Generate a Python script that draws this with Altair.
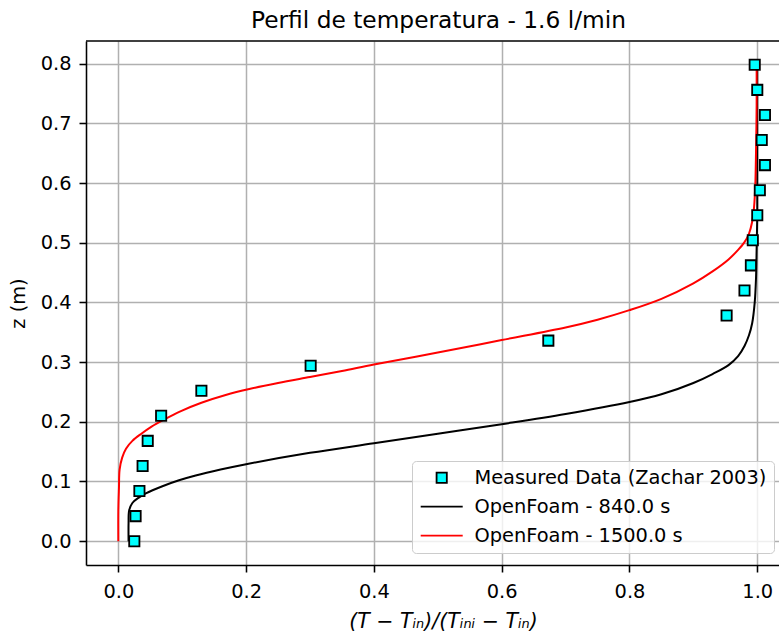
import altair as alt
import pandas as pd

# Measured temperature profile (Zachar 2003): normalised temperature vs height
meas_theta = [0.025, 0.027, 0.033, 0.038, 0.046, 0.067, 0.130, 0.301, 0.673, 0.952,
              0.980, 0.990, 0.993, 1.000, 1.004, 1.012, 1.007, 1.012, 1.000, 0.996]
meas_z = [0.000, 0.042, 0.084, 0.126, 0.168, 0.210, 0.252, 0.294, 0.336, 0.378,
          0.420, 0.462, 0.504, 0.546, 0.588, 0.630, 0.672, 0.714, 0.756, 0.798]

# OpenFoam profile at t = 840 s
of840_theta = [0.016, 0.016, 0.017, 0.022, 0.032, 0.043, 0.069, 0.095, 0.121, 0.160,
               0.200, 0.300, 0.400, 0.500, 0.600, 0.700, 0.800, 0.850, 0.900, 0.930,
               0.955, 0.970, 0.980, 0.987, 0.992, 0.996, 0.998, 0.999, 1.000, 1.000,
               1.000]
of840_z = [0.000, 0.030, 0.052, 0.064, 0.073, 0.080, 0.092, 0.102, 0.110, 0.120,
           0.129, 0.148, 0.164, 0.180, 0.196, 0.213, 0.233, 0.246, 0.265, 0.280,
           0.295, 0.310, 0.327, 0.345, 0.365, 0.400, 0.440, 0.490, 0.550, 0.650,
           0.798]

# OpenFoam profile at t = 1500 s
of1500_theta = [0.000, 0.000, 0.001, 0.002, 0.006, 0.012, 0.022, 0.036, 0.052, 0.072,
                0.098, 0.130, 0.168, 0.205, 0.250, 0.300, 0.350, 0.400, 0.500, 0.600,
                0.700, 0.750, 0.800, 0.850, 0.900, 0.930, 0.955, 0.970, 0.980, 0.987,
                0.992, 0.995, 0.997, 0.998, 0.999, 0.999]
of1500_z = [0.000, 0.050, 0.090, 0.120, 0.140, 0.155, 0.168, 0.180, 0.192, 0.204,
            0.218, 0.232, 0.245, 0.255, 0.265, 0.275, 0.285, 0.296, 0.316, 0.337,
            0.358, 0.371, 0.387, 0.406, 0.432, 0.452, 0.472, 0.488, 0.501, 0.515,
            0.535, 0.560, 0.600, 0.650, 0.730, 0.798]

series = ["Measured Data (Zachar 2003)", "OpenFoam - 840.0 s", "OpenFoam - 1500.0 s"]

meas_df = pd.DataFrame({"theta": meas_theta, "z": meas_z, "serie": series[0]})
curves_df = pd.concat([
    pd.DataFrame({"theta": of840_theta, "z": of840_z, "serie": series[1]}),
    pd.DataFrame({"theta": of1500_theta, "z": of1500_z, "serie": series[2]}),
], ignore_index=True)

FONT = "DejaVu Sans"
W, H = 693, 524

x_scale = alt.Scale(domain=[-0.0506, 1.034], nice=False, zero=False)
y_scale = alt.Scale(domain=[-0.0399, 0.8379], nice=False, zero=False)

x_enc = alt.X("theta:Q", scale=x_scale,
              axis=alt.Axis(values=[0.0, 0.2, 0.4, 0.6, 0.8, 1.0], format=".1f",
                            title="(T − Tᵢₙ)/(Tᵢₙᵢ − Tᵢₙ)", titleFontStyle="italic",
                            titleFontSize=20.5, titleX=357, titlePadding=11,
                            labelPadding=10, labelFlush=False))
y_enc = alt.Y("z:Q", scale=y_scale,
              axis=alt.Axis(values=[0.0, 0.1, 0.2, 0.3, 0.4, 0.5, 0.6, 0.7, 0.8],
                            format=".1f", title="z (m)", titlePadding=12,
                            labelPadding=8))

legend = alt.Legend(
    title=None, orient="none", legendX=326, legendY=420,
    fillColor="rgba(255,255,255,0.8)", strokeColor="#cccccc", cornerRadius=4,
    padding=7, labelFont=FONT, labelFontSize=19.4, labelColor="black",
    labelLimit=0, symbolSize=105, symbolStrokeWidth=1.8, symbolOpacity=1,
    symbolOffset=13, labelOffset=23, rowPadding=8,
)

fill_scale = alt.Scale(domain=series, range=["#00ffff", "transparent", "transparent"])
stroke_scale = alt.Scale(domain=series, range=["black", "black", "red"])
shape_scale = alt.Scale(domain=series, range=["square", "M-4.1,0H4.1", "M-4.1,0H4.1"])

lines = alt.Chart(curves_df).mark_line(strokeWidth=2, interpolate="catmull-rom").encode(
    x=x_enc, y=y_enc, order="z:Q",
    stroke=alt.Stroke("serie:N", scale=stroke_scale, legend=legend),
)

points = alt.Chart(meas_df).mark_point(filled=True, size=105, strokeWidth=1.8, opacity=1).encode(
    x=x_enc, y=y_enc,
    fill=alt.Fill("serie:N", scale=fill_scale, legend=legend),
    stroke=alt.Stroke("serie:N", scale=stroke_scale, legend=legend),
    shape=alt.Shape("serie:N", scale=shape_scale, legend=legend),
)

# upper frame line of the axes box
top_spine = alt.Chart(pd.DataFrame({"a": [0]})).mark_rule(
    color="black", strokeWidth=1.55
).encode(x=alt.value(0), x2=alt.value(W), y=alt.value(0))

chart = alt.layer(lines, points, top_spine).properties(
    width=W, height=H,
    title=alt.TitleParams("Perfil de temperatura - 1.6 l/min", font=FONT, fontSize=23.3,
                          fontWeight="normal", color="black", anchor="middle",
                          dx=6, offset=7),
    autosize=alt.AutoSizeParams(type="none"),
    padding={"left": 86, "top": 41, "right": 0, "bottom": 68},
).configure(background="white").configure_view(stroke=None).configure_axis(
    labelFont=FONT, labelFontSize=19.4, labelColor="black",
    titleFont=FONT, titleFontSize=19.4, titleFontWeight="normal", titleColor="black",
    domainColor="black", domainWidth=1.55, tickColor="black", tickWidth=1.55, tickSize=7,
    gridColor="#b0b0b0", gridWidth=1.5, gridOpacity=1, labelOverlap=False,
)

chart.save("out.html", embed_options={"renderer": "svg", "actions": False})
